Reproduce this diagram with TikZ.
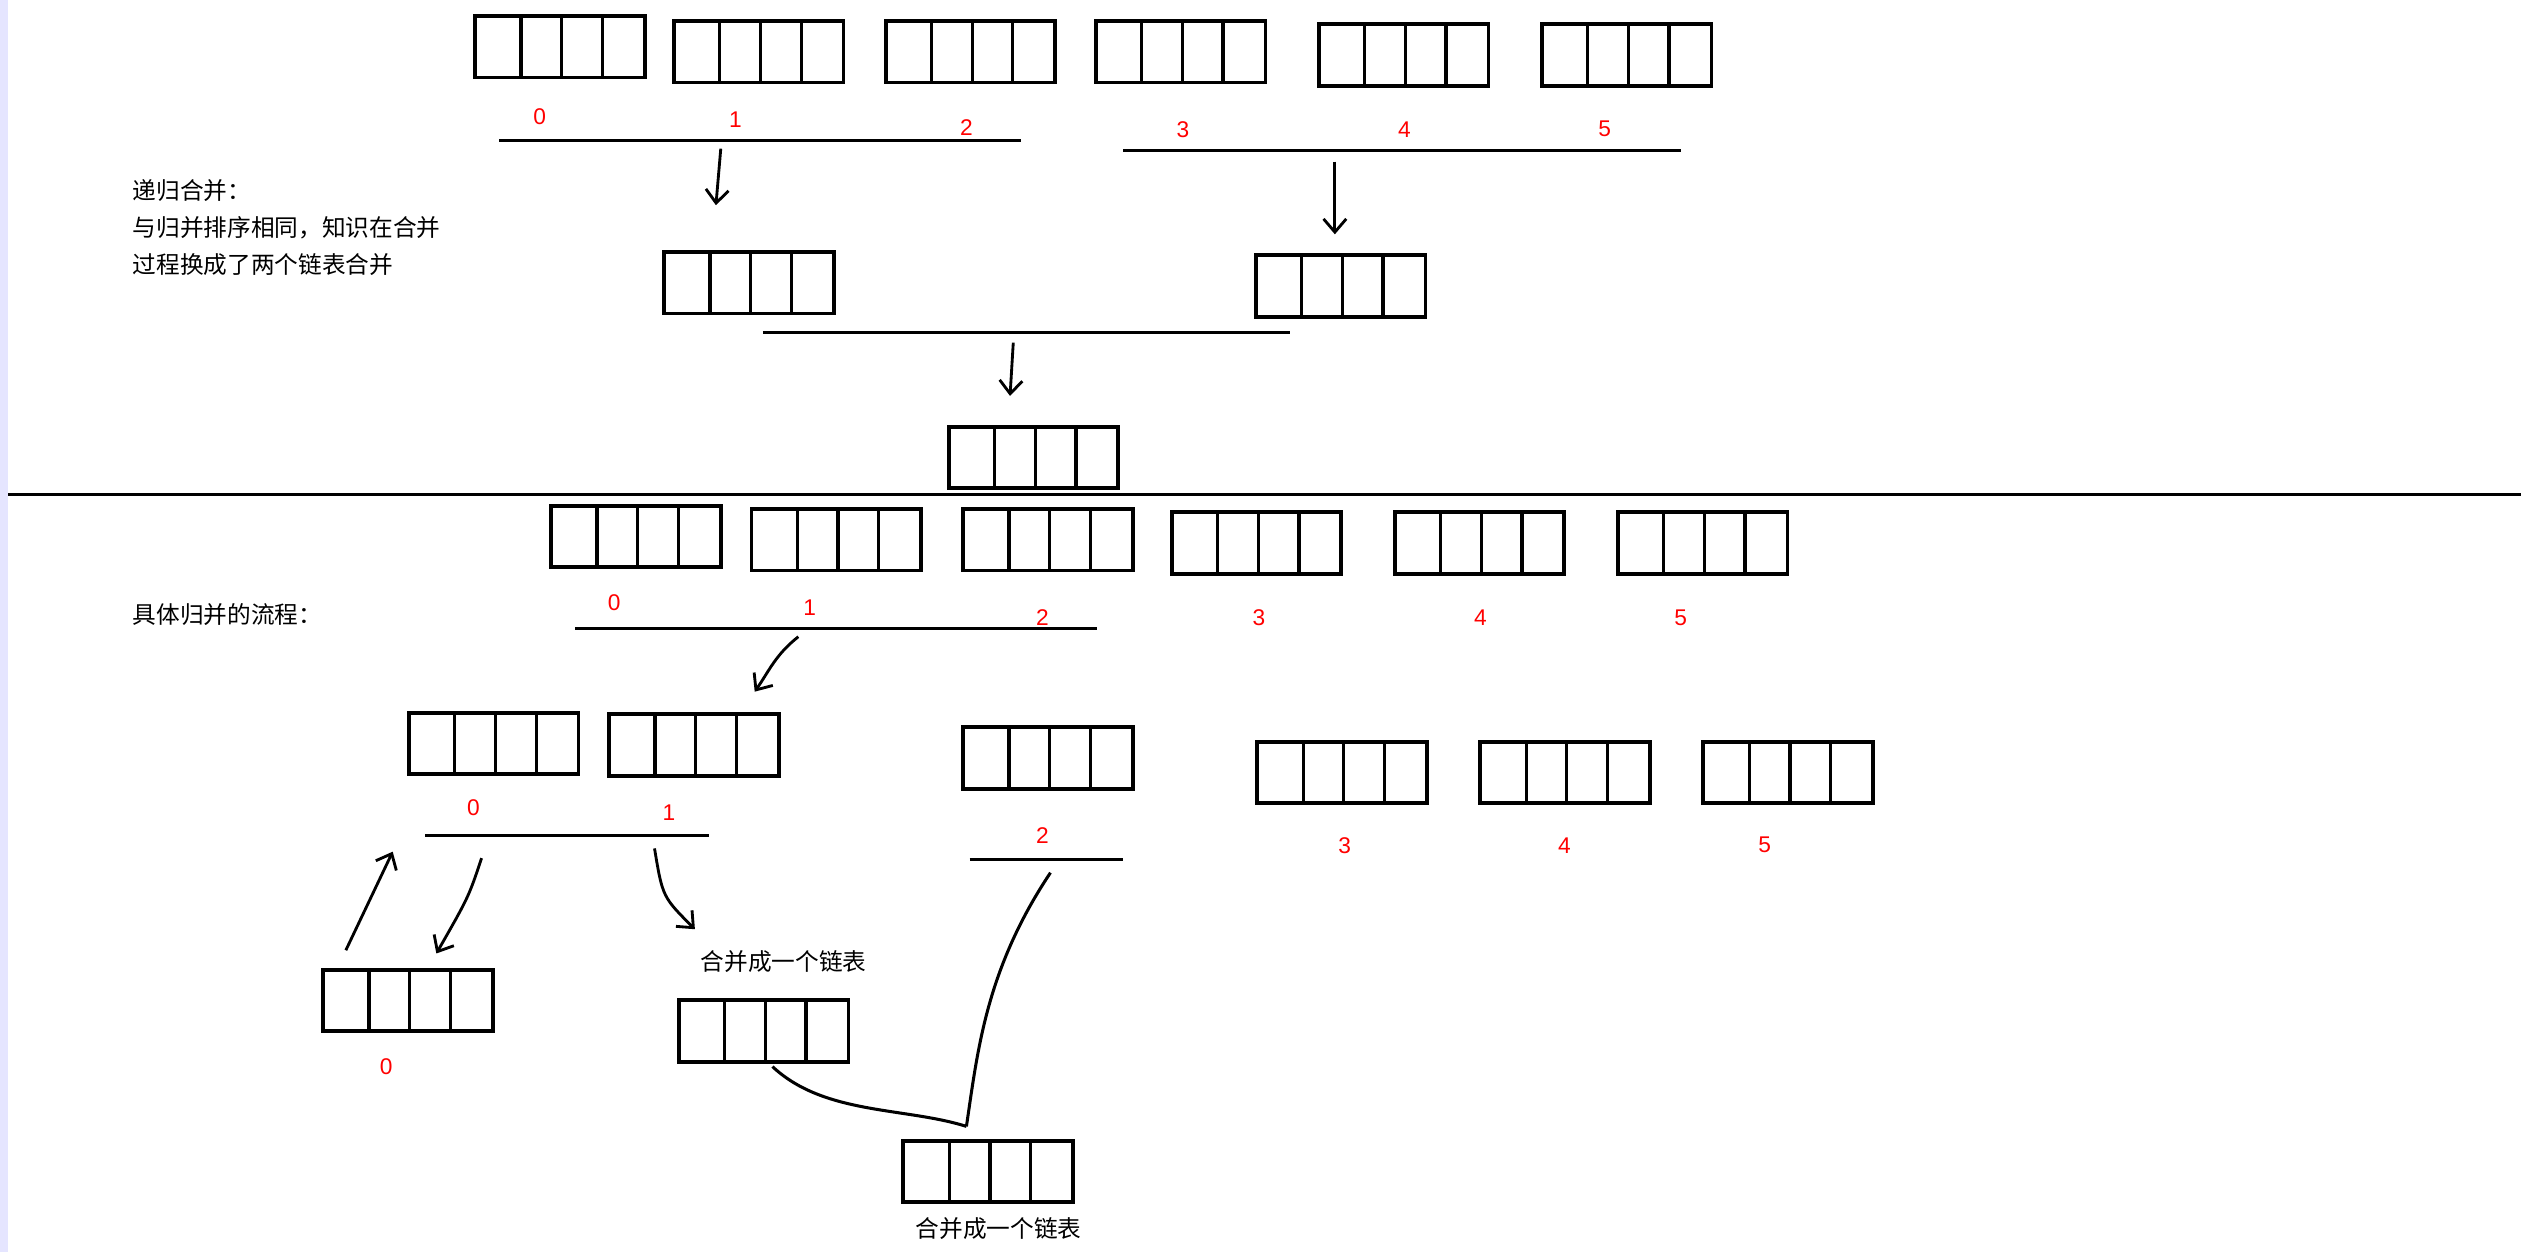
\documentclass[tikz,border=0pt]{standalone}
\usepackage{fontspec}
\setmainfont{Liberation Sans}
\newfontfamily\cjk{Noto Sans CJK SC}
\usetikzlibrary{calc,arrows.meta}
\newcommand\lbox[3]{\node[lst] (#1) at ({#2+52.5},{775-#3-19}) {};}
\newcommand\rl[4]{\node[num] (#1) at (#2,{775-#3}) {#4};}
\newcommand\cp[3]{\coordinate (#1) at (#2,{775-#3});}
\begin{document}
\begin{tikzpicture}[x=0.03cm,y=0.03cm,
 lst/.style={draw,line width=2pt,minimum width=3.15cm,minimum height=1.14cm,inner sep=0,
  path picture={\foreach \f in {0.27,0.51,0.75}{\draw[line width=1.7pt] ($(path picture bounding box.south west)!\f!(path picture bounding box.south east)$) -- ($(path picture bounding box.north west)!\f!(path picture bounding box.north east)$);}}},
 num/.style={text=red,font=\fontsize{12}{12}\selectfont},
 txt/.style={font=\cjk\fontsize{12.5}{15}\selectfont,anchor=west},
 ln/.style={line width=1.6pt},
 ar/.style={line width=1.5pt,-{Straight Barb[length=7pt,width=12pt]}}]
\useasboundingbox (0,0) rectangle (1568,775);
\fill[blue!10] (0,0) rectangle (5,775);
% top section
\lbox{a0}{294}{10}\lbox{a1}{417}{13}\lbox{a2}{548}{13}\lbox{a3}{678}{13}\lbox{a4}{816}{15}\lbox{a5}{954}{15}
\rl{la0}{334}{72}{0}\rl{la1}{455}{74}{1}\rl{la2}{598}{79}{2}\rl{la3}{732}{80}{3}\rl{la4}{869}{80}{4}\rl{la5}{993}{80}{5}
\cp{l1a}{309}{87}\cp{l1b}{632}{87}\draw[ln] (l1a)--(l1b);
\cp{l2a}{695}{93}\cp{l2b}{1040}{93}\draw[ln] (l2a)--(l2b);
\lbox{b0}{411}{156}\lbox{b1}{777}{158}
\cp{r1a}{446}{92}\cp{r1b}{443}{127}\draw[ar] (r1a)--(r1b);
\cp{r2a}{826}{100}\cp{r2b}{826}{145}\draw[ar] (r2a)--(r2b);
\cp{l3a}{472}{206}\cp{l3b}{798}{206}\draw[ln] (l3a)--(l3b);
\cp{r3a}{627}{212}\cp{r3b}{625}{245}\draw[ar] (r3a)--(r3b);
\lbox{c0}{587}{264}
\node[txt] (t1) at (78,{775-118}) {递归合并：};
\node[txt] (t2) at (78,{775-141}) {与归并排序相同，知识在合并};
\node[txt] (t3) at (78,{775-164}) {过程换成了两个链表合并};
\cp{sa}{5}{306}\cp{sb}{1560}{306}\draw[line width=2pt] (sa)--(sb);
% bottom section
\lbox{d0}{341}{313}\lbox{d1}{465}{315}\lbox{d2}{596}{315}\lbox{d3}{725}{317}\lbox{d4}{863}{317}\lbox{d5}{1001}{317}
\rl{ld0}{380}{373}{0}\rl{ld1}{501}{376}{1}\rl{ld2}{645}{382}{2}\rl{ld3}{779}{382}{3}\rl{ld4}{916}{382}{4}\rl{ld5}{1040}{382}{5}
\node[txt] (t4) at (78,{775-380}) {具体归并的流程：};
\cp{l4a}{356}{389}\cp{l4b}{679}{389}\draw[ln] (l4a)--(l4b);
\cp{r4a}{494}{394}\cp{r4b}{467}{428}\draw[ar] (r4a) .. controls (480,{775-405}) and (476,{775-415}) .. (r4b);
\lbox{e0}{253}{441}\lbox{e1}{377}{442}\lbox{e2}{596}{450}\lbox{e3}{778}{459}\lbox{e4}{916}{459}\lbox{e5}{1054}{459}
\rl{le0}{293}{500}{0}\rl{le1}{414}{503}{1}\rl{le2}{645}{517}{2}\rl{le3}{832}{523}{3}\rl{le4}{968}{523}{4}\rl{le5}{1092}{523}{5}
\cp{l5a}{263}{517}\cp{l5b}{439}{517}\draw[ln] (l5a)--(l5b);
\cp{l6a}{600}{532}\cp{l6b}{695}{532}\draw[ln] (l6a)--(l6b);
\lbox{f0}{200}{600}\rl{lf0}{239}{660}{0}
\cp{r5a}{214}{588}\cp{r5b}{243}{527}\draw[ar] (r5a)--(r5b);
\cp{r6a}{298}{531}\cp{r6b}{270}{590}\draw[ar] (r6a) .. controls (290,{775-555}) .. (r6b);
\cp{r7a}{405}{525}\cp{r7b}{430}{575}\draw[ar] (r7a) .. controls (410,{775-555}) .. (r7b);
\node[txt,anchor=center] (t5) at (485,{775-595}) {合并成一个链表};
\lbox{g0}{420}{619}
\lbox{h0}{559}{706}
\node[txt,anchor=center] (t6) at (618,{775-760}) {合并成一个链表};
\cp{c1a}{478}{660}\cp{m}{598}{697}\draw[ln] (c1a) .. controls (510,{775-690}) and (560,{775-685}) .. (m);
\cp{c2a}{650}{540}\draw[ln] (c2a) .. controls (610,{775-600}) and (605,{775-650}) .. (m);
\end{tikzpicture}
\end{document}
